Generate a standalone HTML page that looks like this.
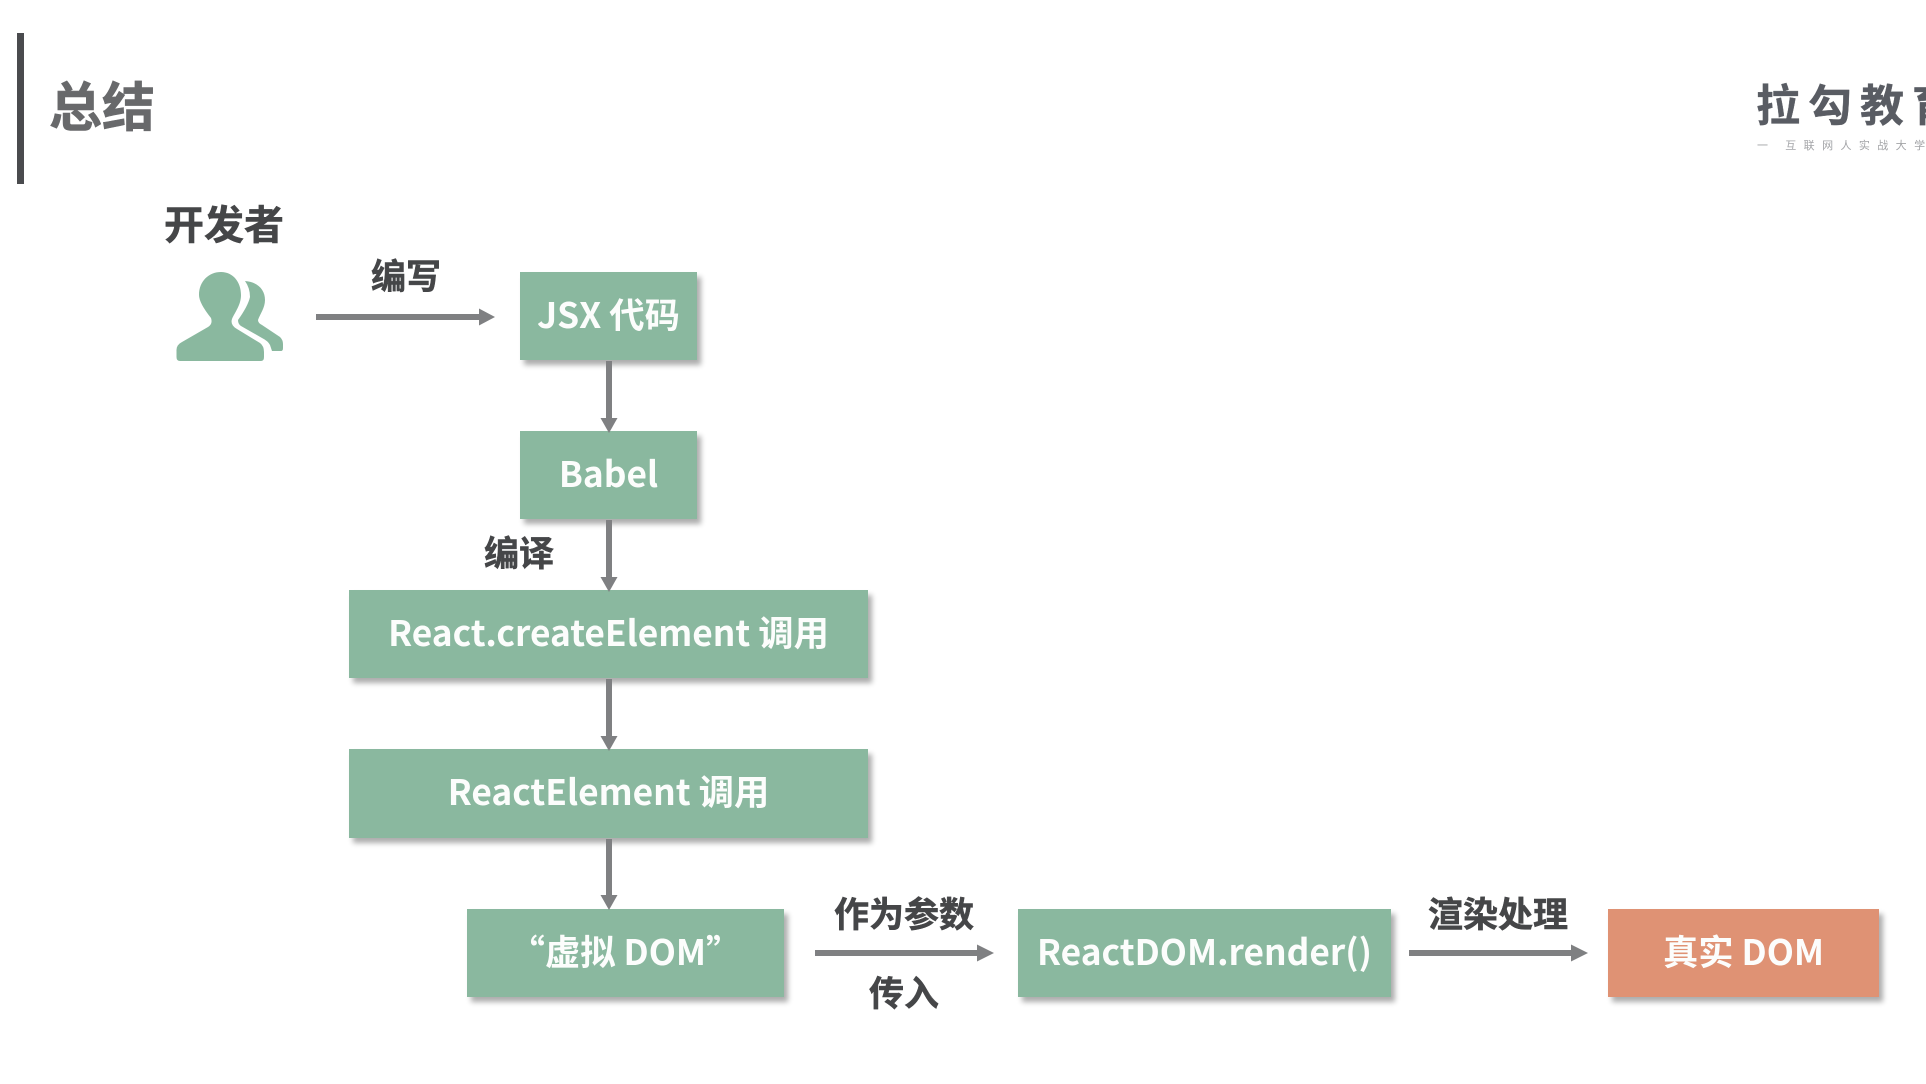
<!DOCTYPE html>
<html lang="zh">
<head>
<meta charset="utf-8">
<title>总结</title>
<style>
html,body{margin:0;padding:0;background:#fff}
#p{position:relative;width:1926px;height:1084px;overflow:hidden;background:#fff;font-family:"Liberation Sans","Noto Sans CJK SC",sans-serif}
.b{position:absolute;display:flex;align-items:center;justify-content:center;background:#8ab89f;color:#fcfdfc;box-shadow:4px 5px 5px rgba(0,0,0,.32);font:700 35.3px "Noto Sans CJK SC","Liberation Sans",sans-serif;white-space:nowrap}
.b span{position:relative;top:-3px;filter:blur(.3px)}
.l{position:absolute;white-space:nowrap;font:700 35px/1 "Noto Sans CJK SC",sans-serif;color:#454648;-webkit-text-stroke:.5px #454648;filter:blur(.3px)}
svg{position:absolute;left:0;top:0}
</style>
</head>
<body>
<div id="p">
<div style="position:absolute;left:17px;top:33px;width:6.5px;height:151px;background:#4a4b4e"></div>
<div class="l" style="left:49px;top:78px;font-size:53px;color:#68696b;-webkit-text-stroke:.6px #68696b">总结</div>
<div class="l" style="left:164px;top:202px;font-size:40px">开发者</div>
<div class="l" style="left:371px;top:257px">编写</div>
<div class="l" style="left:484px;top:534px">编译</div>
<div class="l" style="left:834px;top:895px">作为参数</div>
<div class="l" style="left:869px;top:974px">传入</div>
<div class="l" style="left:1428px;top:895px">渲染处理</div>

<div class="b" style="left:520px;top:272px;width:177px;height:88px"><span>JSX 代码</span></div>
<div class="b" style="left:520px;top:431px;width:177px;height:88px"><span>Babel</span></div>
<div class="b" style="left:349px;top:590px;width:519px;height:88px"><span>React.createElement 调用</span></div>
<div class="b" style="left:349px;top:749px;width:519px;height:89px"><span>ReactElement 调用</span></div>
<div class="b" style="left:467px;top:909px;width:317px;height:88px"><span>“虚拟 DOM”</span></div>
<div class="b" style="left:1018px;top:909px;width:373px;height:88px"><span>ReactDOM.render()</span></div>
<div class="b" style="left:1608px;top:909px;width:271px;height:88px;background:#df9274"><span>真实 DOM</span></div>

<svg width="1926" height="1084" viewBox="0 0 1926 1084">
<g fill="#8ab89f">
<path d="M176.500 351Q176 345 182 342L208 327Q213 324 211 318Q199 303 199 295C199 281 209 272 221 272C233 272 241 282 241 295C241 305 235 312 232 319Q230 325 237 329L260 343Q264 346 264 352L264 357Q264 361 261 361L180 361Q176.500 361 176.500 357Z"/>
<path d="M245 281C258 282 265 290 265 300C265 308 260 314 258 320Q258 323 262 325L280 337Q283 340 283 344L283 348Q283 351 281 351L272 351L270 345Q268 341 262 338L241 326Q238 324 238 320Q248 306 250 297Q250 288 245 281Z"/>
</g>
<g fill="#7f8082">
<rect x="316" y="314" width="165" height="6"/><path d="M479 308.500L495 317L479 325.500Z"/>
<rect x="815" y="950" width="165" height="6"/><path d="M977 944.500L994 953L977 961.500Z"/>
<rect x="1409" y="950" width="165" height="6"/><path d="M1571 944.500L1588 953L1571 961.500Z"/>
<rect x="606" y="361" width="6" height="60"/><path d="M600.500 418L609 433L617.500 418Z"/>
<rect x="606" y="520" width="6" height="60"/><path d="M600.500 577L609 592L617.500 577Z"/>
<rect x="606" y="679" width="6" height="60"/><path d="M600.500 736L609 751L617.500 736Z"/>
<rect x="606" y="839" width="6" height="60"/><path d="M600.500 895L609 910L617.500 895Z"/>
</g>
</svg>

<div class="l" style="left:1756px;top:80px;font-size:44px;letter-spacing:8px;color:#595c63;-webkit-text-stroke:.3px #595c63">拉勾教育</div>
<div class="l" style="left:1757px;top:140px;font-size:11px;font-weight:400;letter-spacing:7.4px;color:#a3a4a7;-webkit-text-stroke:0">一 互联网人实战大学</div>
</div>
</body>
</html>
